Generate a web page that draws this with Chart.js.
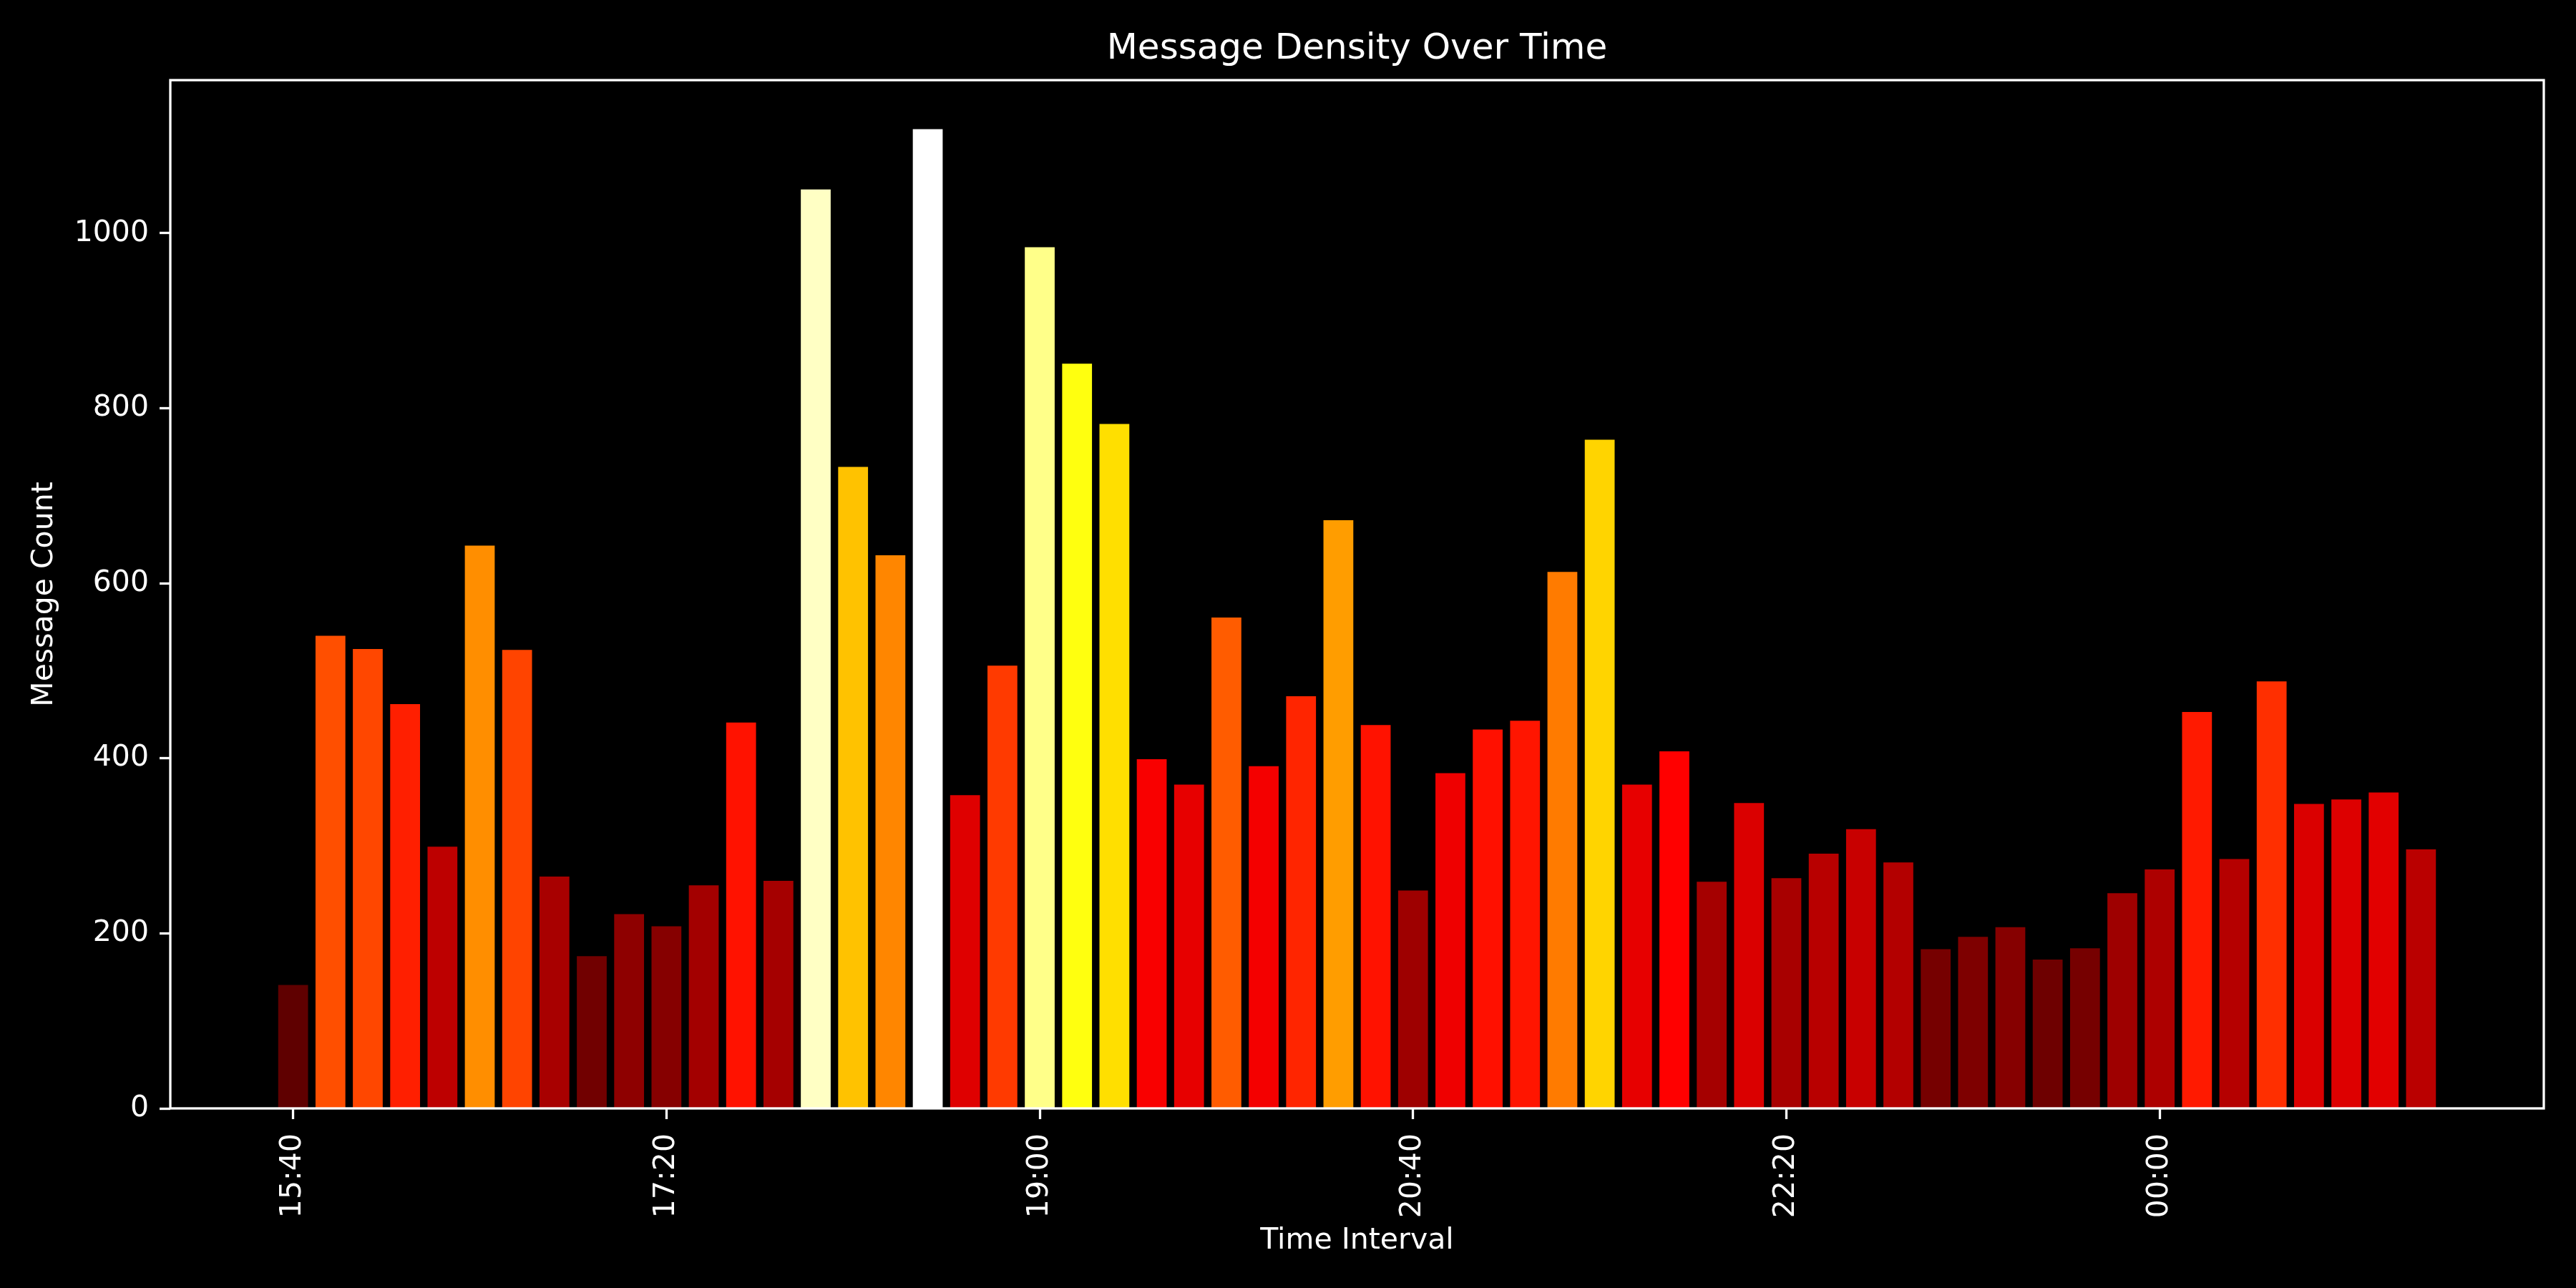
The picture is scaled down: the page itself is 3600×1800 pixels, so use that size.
<!DOCTYPE html>
<html lang="en">
<head>
<meta charset="UTF-8">
<title>Message Density Over Time</title>
<script src="https://cdn.jsdelivr.net/npm/chart.js@4.4.1/dist/chart.umd.min.js"></script>
<style>
  html, body { margin: 0; padding: 0; background: #000; }
  #wrap { width: 3600px; height: 1800px; }
</style>
</head>
<body>
<div id="wrap"><canvas id="myChart" width="3600" height="1800"></canvas></div>
<script>
// 10 minute slots
var times = ['15:40','15:50','16:00','16:10','16:20','16:30','16:40','16:50','17:00','17:10',
             '17:20','17:30','17:40','17:50','18:00','18:10','18:20','18:30','18:40','18:50',
             '19:00','19:10','19:20','19:30','19:40','19:50','20:00','20:10','20:20','20:30',
             '20:40','20:50','21:00','21:10','21:20','21:30','21:40','21:50','22:00','22:10',
             '22:20','22:30','22:40','22:50','23:00','23:10','23:20','23:30','23:40','23:50',
             '00:00','00:10','00:20','00:30','00:40','00:50','01:00','01:10'];
var counts = [141, 540, 525, 462, 299, 643, 524, 265, 174, 222,
              208, 255, 441, 260, 1050, 733, 632, 1119, 358, 506,
              984, 851, 782, 399, 370, 561, 391, 471, 672, 438,
              249, 383, 433, 443, 613, 764, 370, 408, 259, 349,
              263, 291, 319, 281, 182, 196, 207, 170, 183, 246,
              273, 453, 285, 488, 348, 353, 361, 296];
var xTickSlots = [0, 10, 20, 30, 40, 50];
var yTicks = [0, 200, 400, 600, 800, 1000];

// matplotlib 'hot' colormap, 256 entries
function hot(t) {
  var x = Math.min(255, Math.floor(t * 256)) / 255;
  var a = 0.365079, b = 0.746032;
  var r = x < a ? 0.0416 + (1 - 0.0416) * x / a : 1;
  var g = x < a ? 0 : (x < b ? (x - a) / (b - a) : 1);
  var bl = x < b ? 0 : (x - b) / (1 - b);
  return 'rgb(' + Math.round(r * 255) + ',' + Math.round(g * 255) + ',' + Math.round(bl * 255) + ')';
}

var maxCount = Math.max.apply(null, counts);
var colors = counts.map(function (v) { return hot(v / maxCount); });
var points = counts.map(function (v, i) { return { x: i, y: v }; });

var font = 'DejaVu Sans';

// axes frame on top of the bars
var spines = {
  id: 'spines',
  afterDatasetsDraw: function (chart) {
    var a = chart.chartArea, c = chart.ctx;
    c.save();
    c.strokeStyle = '#ffffff';
    c.lineWidth = 3.3;
    c.strokeRect(a.left, a.top, a.right - a.left, a.bottom - a.top);
    c.restore();
  }
};

var ctx = document.getElementById('myChart').getContext('2d');
var chart = new Chart(ctx, {
  type: 'bar',
  data: {
    datasets: [{
      label: 'Message Count',
      data: points,
      backgroundColor: colors,
      borderWidth: 0,
      barPercentage: 0.8,
      categoryPercentage: 1.0
    }]
  },
  options: {
    responsive: false,
    devicePixelRatio: 1,
    animation: false,
    layout: { padding: { left: 0, right: 45, top: 0, bottom: 0 } },
    plugins: {
      legend: { display: false },
      tooltip: { enabled: false },
      title: {
        display: true,
        fullSize: false,
        text: 'Message Density Over Time',
        color: '#ffffff',
        font: { family: font, size: 50, weight: 'normal', lineHeight: 1.2 },
        padding: { top: 39, bottom: 13 }
      }
    },
    scales: {
      x: {
        type: 'linear',
        offset: false,
        min: -3.29,
        max: 60.29,
        grid: { offset: false, drawOnChartArea: false, drawTicks: true, tickLength: 15, tickWidth: 3.3, tickColor: '#ffffff' },
        border: { display: false },
        afterBuildTicks: function (axis) {
          axis.ticks = xTickSlots.map(function (v) { return { value: v }; });
        },
        afterFit: function (axis) { axis.height = 251; },
        ticks: {
          color: '#ffffff',
          font: { family: font, size: 41 },
          minRotation: 90,
          maxRotation: 90,
          autoSkip: false,
          padding: 20,
          callback: function (v) { return times[v]; }
        },
        title: {
          display: true,
          text: 'Time Interval',
          color: '#ffffff',
          font: { family: font, size: 41, lineHeight: 1.2 },
          padding: { top: 0, bottom: 41 }
        }
      },
      y: {
        min: 0,
        max: maxCount * 1.05,
        grid: { drawOnChartArea: false, drawTicks: true, tickLength: 15, tickWidth: 3.3, tickColor: '#ffffff' },
        border: { display: false },
        afterBuildTicks: function (axis) {
          axis.ticks = yTicks.map(function (v) { return { value: v }; });
        },
        afterFit: function (axis) { axis.width = 238; },
        ticks: {
          color: '#ffffff',
          font: { family: font, size: 41 },
          padding: 15,
          callback: function (v) { return String(v); }
        },
        title: {
          display: true,
          text: 'Message Count',
          color: '#ffffff',
          font: { family: font, size: 41, lineHeight: 1.2 },
          padding: { top: 38, bottom: 0 }
        }
      }
    }
  },
  plugins: [spines]
});
</script>
</body>
</html>
